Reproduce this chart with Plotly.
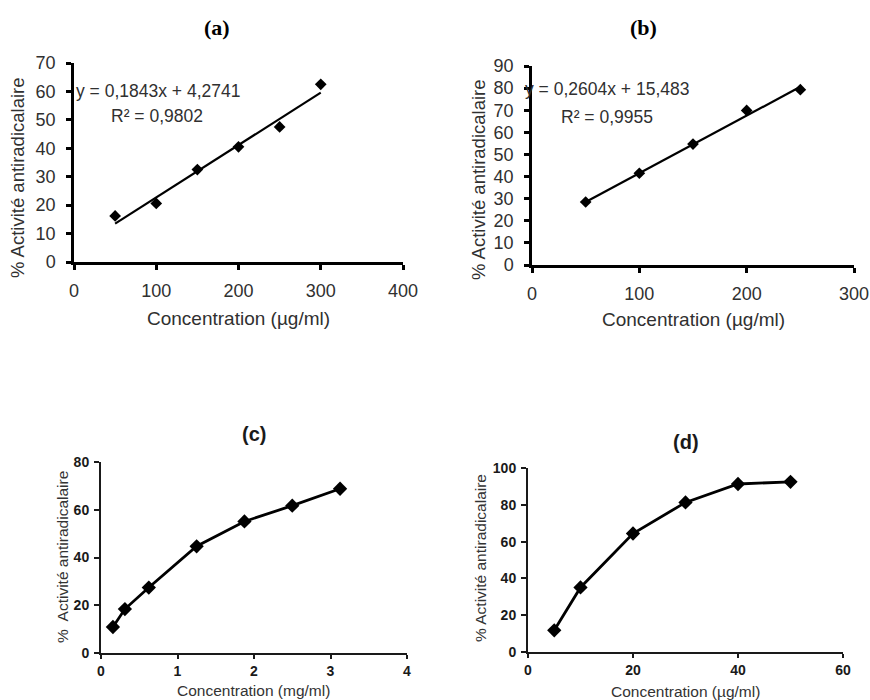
import plotly.graph_objects as go

W, H = 870, 700

# ---- data ----
a_x = [50, 100, 150, 200, 250, 300]
a_y = [16.2, 20.6, 32.5, 40.5, 47.5, 62.5]
a_slope, a_icpt = 0.1843, 4.2741
a_eq = "y = 0,1843x + 4,2741"
a_r2 = "R² = 0,9802"

b_x = [50, 100, 150, 200, 250]
b_y = [28.5, 41.5, 54.7, 69.9, 79.3]
b_slope, b_icpt = 0.2604, 15.483
b_eq = "y = 0,2604x + 15,483"
b_r2 = "R² = 0,9955"

c_x = [0.156, 0.3125, 0.625, 1.25, 1.875, 2.5, 3.125]
c_y = [10.9, 18.4, 27.4, 44.7, 55.1, 61.7, 68.8]

d_x = [5, 10, 20, 30, 40, 50]
d_y = [11.8, 35.1, 64.4, 81.3, 91.3, 92.5]

x_title_ug = "Concentration (µg/ml)"
x_title_mg = "Concentration (mg/ml)"
y_title = "% Activité antiradicalaire"
y_title_c = "%  Activité antiradicalaire"

TOP_FONT = "Liberation Sans"
BOT_FONT = "Liberation Sans"
TXT = "#303030"


def px(xp):
    return xp / W


def py(yp):
    return 1 - yp / H


fig = go.Figure()

# (a)
fig.add_trace(go.Scatter(x=[a_x[0], a_x[-1]], y=[a_slope * a_x[0] + a_icpt, a_slope * a_x[-1] + a_icpt],
                         mode="lines", line=dict(color="black", width=2.2), xaxis="x", yaxis="y", showlegend=False))
fig.add_trace(go.Scatter(x=a_x, y=a_y, mode="markers", marker=dict(symbol="diamond", size=9, color="black"),
                         xaxis="x", yaxis="y", showlegend=False))
# (b)
fig.add_trace(go.Scatter(x=[b_x[0], b_x[-1]], y=[b_slope * b_x[0] + b_icpt, b_slope * b_x[-1] + b_icpt],
                         mode="lines", line=dict(color="black", width=2.2), xaxis="x2", yaxis="y2", showlegend=False))
fig.add_trace(go.Scatter(x=b_x, y=b_y, mode="markers", marker=dict(symbol="diamond", size=9, color="black"),
                         xaxis="x2", yaxis="y2", showlegend=False))
# (c)
fig.add_trace(go.Scatter(x=c_x, y=c_y, mode="lines+markers", line=dict(color="black", width=2.8),
                         marker=dict(symbol="diamond", size=11, color="black"),
                         xaxis="x3", yaxis="y3", showlegend=False))
# (d)
fig.add_trace(go.Scatter(x=d_x, y=d_y, mode="lines+markers", line=dict(color="black", width=2.8),
                         marker=dict(symbol="diamond", size=11, color="black"),
                         xaxis="x4", yaxis="y4", showlegend=False))


def top_axes(xdom, ydom, xrng, yrng, dx, dy, anchor_x, anchor_y):
    ax = dict(domain=xdom, range=xrng, dtick=dx, tick0=0, showgrid=False, zeroline=False, automargin=False,
              showline=True, linecolor="black", linewidth=2.5, ticks="outside", ticklen=5,
              tickwidth=2.5, tickcolor="black", anchor=anchor_y,
              tickfont=dict(family=TOP_FONT, size=18, color=TXT), ticklabelstandoff=6)
    ay = dict(domain=ydom, range=yrng, dtick=dy, tick0=0, showgrid=False, zeroline=False, automargin=False,
              showline=True, linecolor="black", linewidth=2.5, ticks="outside", ticklen=5,
              tickwidth=2.5, tickcolor="black", anchor=anchor_x,
              tickfont=dict(family=TOP_FONT, size=18, color=TXT), ticklabelstandoff=7)
    return ax, ay


def bot_axes(xdom, ydom, xrng, yrng, dx, dy, anchor_x, anchor_y):
    ax = dict(domain=xdom, range=xrng, dtick=dx, tick0=0, showgrid=False, zeroline=False, automargin=False,
              showline=True, linecolor="#1a1a1a", linewidth=2, ticks="outside", ticklen=4,
              tickwidth=2, tickcolor="#1a1a1a", anchor=anchor_y,
              tickfont=dict(family=BOT_FONT, size=14, color="#1a1a1a", weight="bold"), ticklabelstandoff=0)
    ay = dict(domain=ydom, range=yrng, dtick=dy, tick0=0, showgrid=False, zeroline=False, automargin=False,
              showline=True, linecolor="#1a1a1a", linewidth=2, ticks="outside", ticklen=5,
              tickwidth=2, tickcolor="#1a1a1a", anchor=anchor_x,
              tickfont=dict(family=BOT_FONT, size=14, color="#1a1a1a", weight="bold"), ticklabelstandoff=2)
    return ax, ay


xa, ya = top_axes([px(74), px(403)], [py(262), py(63)], [0, 400], [0, 70], 100, 10, "x", "y")
xb, yb = top_axes([px(532), px(854)], [py(265), py(66)], [0, 300], [0, 90], 100, 10, "x2", "y2")
xc, yc = bot_axes([px(101), px(407)], [py(653), py(462)], [0, 4], [0, 80], 1, 20, "x3", "y3")
xd, yd = bot_axes([px(528), px(843)], [py(652), py(468)], [0, 60], [0, 100], 20, 20, "x4", "y4")

ann = []


def label(text, xp, ypix, size, family, color="black", bold=False, angle=0):
    ann.append(dict(text=f"<b>{text}</b>" if bold else text, x=px(xp), y=py(ypix), xref="paper", yref="paper",
                    showarrow=False, xanchor="center", yanchor="middle", textangle=angle,
                    font=dict(size=size, family=family, color=color)))


# panel titles
label("(a)", 217, 27, 22, "Liberation Serif", bold=True)
label("(b)", 643, 27, 22, "Liberation Serif", bold=True)
label("(c)", 254, 434, 20, BOT_FONT, color="#1a1a1a", bold=True)
label("(d)", 686, 442, 20, BOT_FONT, color="#1a1a1a", bold=True)

# axis titles
label(x_title_ug, 239, 318, 19, TOP_FONT, color=TXT)
label(y_title, 18, 178, 18.5, TOP_FONT, color=TXT, angle=-90)
label(x_title_ug, 693, 320, 19, TOP_FONT, color=TXT)
label(y_title, 478, 179, 18.5, TOP_FONT, color=TXT, angle=-90)
label(x_title_mg, 253, 690, 15.5, BOT_FONT, color="#333")
label(y_title_c, 62, 557, 15.5, BOT_FONT, color="#333", angle=-90)
label(x_title_ug, 685, 691, 15.5, BOT_FONT, color="#333")
label(y_title, 480, 558, 15.5, BOT_FONT, color="#333", angle=-90)

# trendline equations (data coords)
ann.append(dict(text=a_eq, x=0, y=60, xref="x", yref="y", xanchor="left", yanchor="middle", showarrow=False,
                font=dict(size=17.5, family=TOP_FONT, color=TXT)))
ann.append(dict(text=a_r2, x=101, y=51.5, xref="x", yref="y", xanchor="center", yanchor="middle", showarrow=False,
                font=dict(size=17.5, family=TOP_FONT, color=TXT)))
ann.append(dict(text=b_eq, x=0, y=79.5, xref="x2", yref="y2", xanchor="left", yanchor="middle", showarrow=False,
                xshift=-9, font=dict(size=17.5, family=TOP_FONT, color=TXT)))
ann.append(dict(text=b_r2, x=70, y=67, xref="x2", yref="y2", xanchor="center", yanchor="middle", showarrow=False,
                font=dict(size=17.5, family=TOP_FONT, color=TXT)))

fig.update_layout(
    template="none",
    width=W, height=H, margin=dict(l=0, r=0, t=0, b=0, pad=0),
    paper_bgcolor="white", plot_bgcolor="rgba(0,0,0,0)",
    xaxis=xa, yaxis=ya, xaxis2=xb, yaxis2=yb, xaxis3=xc, yaxis3=yc, xaxis4=xd, yaxis4=yd,
    annotations=ann, showlegend=False,
)

fig.write_html("out.html")
